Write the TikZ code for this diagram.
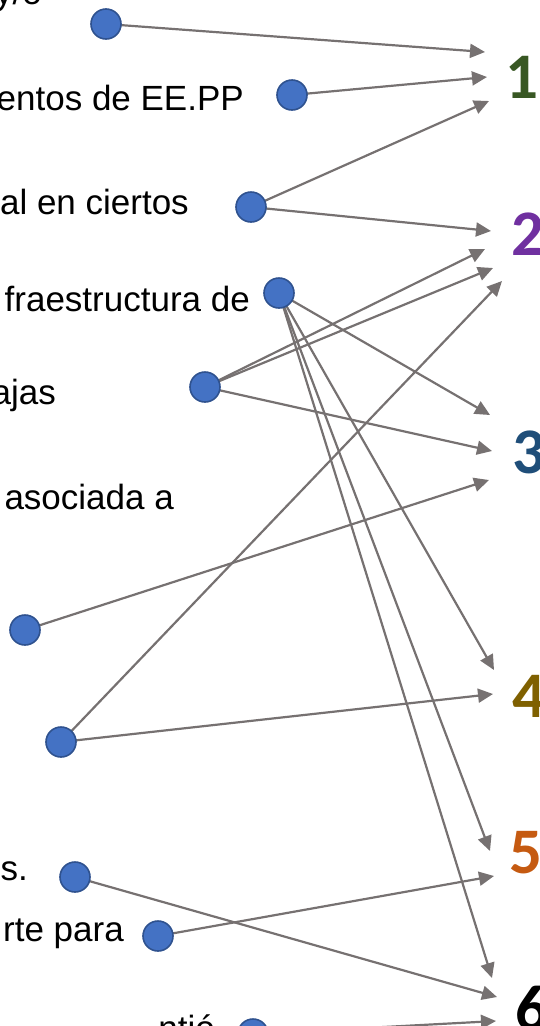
\documentclass[tikz,border=0pt]{standalone}
\usepackage{fontspec}
\setmainfont{Liberation Sans}
\newfontfamily\numfont{Carlito}
\usetikzlibrary{arrows.meta}
\definecolor{dotfill}{HTML}{4472C4}
\definecolor{dotline}{HTML}{2F528F}
\definecolor{arrowgray}{HTML}{767171}
\definecolor{cone}{HTML}{385723}
\definecolor{ctwo}{HTML}{7030A0}
\definecolor{cthree}{HTML}{1F4E79}
\definecolor{cfour}{HTML}{7F6000}
\definecolor{cfive}{HTML}{C55A11}
\definecolor{csix}{HTML}{000000}
\tikzset{
  dot/.style={circle, fill=dotfill, draw=dotline, line width=1.6pt, minimum size=30pt, inner sep=0pt},
  lbl/.style={anchor=base east, inner sep=0pt, font=\fontsize{35}{40}\selectfont},
  num/.style={anchor=base west, inner sep=0pt, font=\numfont\bfseries\fontsize{65}{70}\selectfont},
  conn/.style={draw=arrowgray, line width=2.2pt, -{Triangle[length=15pt,width=14pt]}}
}
\begin{document}
\begin{tikzpicture}[x=1pt,y=-1pt]
\useasboundingbox (0,0) rectangle (539,1026);
\clip (0,0) rectangle (539,1026);
% texts
\node[lbl] (t1) at (42,4) {y/o};
\node[lbl] (t2) at (244,110) {entos de EE.PP};
\node[lbl] (t3) at (189,214) {al en ciertos};
\node[lbl] (t4) at (250,311) {fraestructura de};
\node[lbl] (t5) at (56,404) {ajas};
\node[lbl] (t6) at (174,509) {asociada a};
\node[lbl] (t7) at (28,880) {os.};
\node[lbl] (t8) at (124,941) {rte para};
\node[lbl] (t9) at (215,1040) {ntió};
% numbers
\node[num, text=cone] (n1) at (505,98) {1};
\node[num, text=ctwo] (n2) at (511,255) {2};
\node[num, text=cthree] (n3) at (512,473) {3};
\node[num, text=cfour] (n4) at (512,717) {4};
\node[num, text=cfive] (n5) at (509,873) {5};
\node[num, text=csix] (n6) at (515,1030) {6};
% arrow tips
\coordinate (a1) at (485,52);
\coordinate (a2) at (487,77);
\coordinate (a3) at (489,101);
\coordinate (b1) at (491,231);
\coordinate (b2) at (485,249);
\coordinate (b3) at (493,268);
\coordinate (b4) at (502,281);
\coordinate (c1) at (490,415);
\coordinate (c2) at (492,451);
\coordinate (c3) at (489,480);
\coordinate (d1) at (494,670);
\coordinate (d2) at (493,694);
\coordinate (e1) at (490,851);
\coordinate (e2) at (494,876);
\coordinate (f1) at (492,978);
\coordinate (f2) at (497,997);
\coordinate (f3) at (496,1021);
% dot centres
\coordinate (p1) at (106,24);
\coordinate (p2) at (292,95);
\coordinate (p3) at (251,207);
\coordinate (p4) at (279,293);
\coordinate (p5) at (205,387);
\coordinate (p6) at (25,630);
\coordinate (p7) at (61,742);
\coordinate (p8) at (75,877);
\coordinate (p9) at (158,936);
\coordinate (p10) at (253,1034);
% connectors (under dots)
\draw[conn] (p1) -- (a1);
\draw[conn] (p2) -- (a2);
\draw[conn] (p3) -- (a3);
\draw[conn] (p3) -- (b1);
\draw[conn] (p5) -- (b2);
\draw[conn] (p5) -- (b3);
\draw[conn] (p7) -- (b4);
\draw[conn] (p4) -- (c1);
\draw[conn] (p5) -- (c2);
\draw[conn] (p6) -- (c3);
\draw[conn] (p4) -- (d1);
\draw[conn] (p7) -- (d2);
\draw[conn] (p4) -- (e1);
\draw[conn] (p9) -- (e2);
\draw[conn] (p4) -- (f1);
\draw[conn] (p8) -- (f2);
\draw[conn] (p10) -- (f3);
% dots
\node[dot] (d1n) at (p1) {};
\node[dot] (d2n) at (p2) {};
\node[dot] (d3n) at (p3) {};
\node[dot] (d4n) at (p4) {};
\node[dot] (d5n) at (p5) {};
\node[dot] (d6n) at (p6) {};
\node[dot] (d7n) at (p7) {};
\node[dot] (d8n) at (p8) {};
\node[dot] (d9n) at (p9) {};
\node[dot] (d10n) at (p10) {};
\end{tikzpicture}
\end{document}
